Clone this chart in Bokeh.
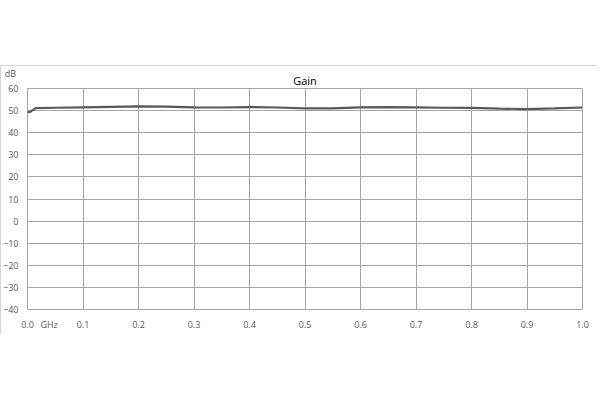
from bokeh.plotting import figure
from bokeh.models import Label, FixedTicker, InlineStyleSheet, Title
from bokeh.embed import file_html
from bokeh.resources import INLINE

# Data
freq_ghz = [0.0, 0.005, 0.01, 0.015, 0.05, 0.1, 0.15, 0.2, 0.25, 0.3, 0.35, 0.4,
            0.45, 0.5, 0.55, 0.6, 0.65, 0.7, 0.75, 0.8, 0.85, 0.9, 0.95, 1.0]
gain_db = [49.2, 49.5, 50.3, 51.1, 51.3, 51.5, 51.7, 51.9, 51.8, 51.5, 51.4, 51.6,
           51.4, 51.0, 51.0, 51.5, 51.6, 51.5, 51.3, 51.2, 50.9, 50.7, 51.0, 51.4]
x_ticks = [0.0, 0.1, 0.2, 0.3, 0.4, 0.5, 0.6, 0.7, 0.8, 0.9, 1.0]
y_ticks = [-40, -30, -20, -10, 0, 10, 20, 30, 40, 50, 60]
title_text = "Gain"
x_unit = "GHz"
x_unit_pos = 0.039
y_unit = "dB"

FONT = "Open Sans"
TXT = "#595959"
GRID = "#a6a6a6"

W, H = 597, 269
p = figure(width=W, height=H, output_backend="svg", toolbar_location=None,
           x_range=(0.0, 1.0), y_range=(-40, 60),
           min_border_left=26, min_border_right=15, min_border_top=23, min_border_bottom=25)
p.title = None
p.styles = {"margin-top": "65px", "width": f"{W}px", "height": f"{H}px"}
p.stylesheets = [InlineStyleSheet(css=":host { outline: 1px solid #c8c8c8; outline-offset: -1px; }")]
p.background_fill_color = "white"
p.border_fill_color = "white"
p.outline_line_color = GRID
p.outline_line_width = 1

p.add_layout(Title(text=title_text, align="center", text_font=FONT, text_font_size="11px",
                   text_font_style="normal", text_color="#000000", standoff=2), "above")

for ax in (p.xaxis[0], p.yaxis[0]):
    ax.axis_line_color = None
    ax.major_tick_line_color = None
    ax.minor_tick_line_color = None
    ax.major_tick_out = 0
    ax.major_tick_in = 0
    ax.minor_tick_out = 0
    ax.minor_tick_in = 0
    ax.major_label_text_font = FONT
    ax.major_label_text_font_size = "9px"
    ax.major_label_text_color = TXT
p.xaxis[0].ticker = FixedTicker(ticks=x_ticks + [x_unit_pos])
p.yaxis[0].ticker = FixedTicker(ticks=y_ticks)
p.xaxis[0].major_label_standoff = 8
p.yaxis[0].major_label_standoff = 9
overrides = {t: f"{t:.1f}" for t in x_ticks}
overrides[x_unit_pos] = x_unit
p.xaxis[0].major_label_overrides = overrides

p.xgrid.ticker = FixedTicker(ticks=x_ticks)
p.ygrid.ticker = FixedTicker(ticks=y_ticks)
p.xgrid.grid_line_color = GRID
p.ygrid.grid_line_color = GRID
p.xgrid.grid_line_width = 1
p.ygrid.grid_line_width = 1

p.line(freq_ghz, gain_db, line_color="#595959", line_width=2.2)

# unit label placed in a side panel (side-panel annotations are not clipped to the frame)
p.add_layout(Label(x=0.0, y=60, x_offset=-17, y_offset=15, text=y_unit,
                   text_align="center", text_baseline="middle", text_font=FONT,
                   text_font_size="9px", text_color=TXT), "right")

open("out.html", "w").write(file_html(p, INLINE))
